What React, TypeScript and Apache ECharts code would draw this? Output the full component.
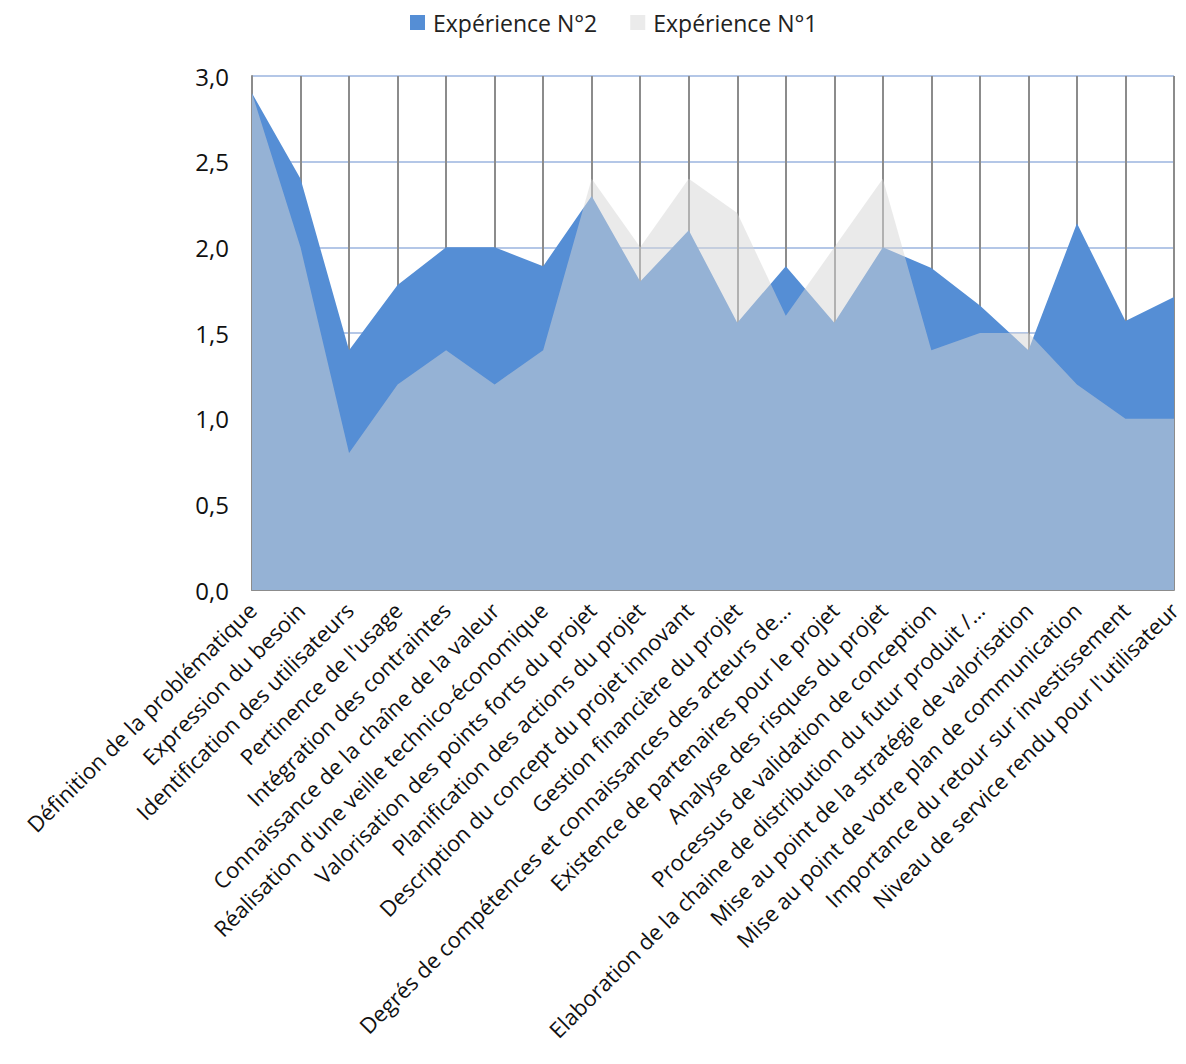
import React, { useEffect, useRef } from "react";
import * as echarts from "echarts";

const categories = [
  "Définition de la problématique",
  "Expression du besoin",
  "Identification des utilisateurs",
  "Pertinence de l'usage",
  "Intégration des contraintes",
  "Connaissance de la chaîne de la valeur",
  "Réalisation d'une veille technico-économique",
  "Valorisation des points forts du projet",
  "Planification des actions du projet",
  "Description du concept du projet innovant",
  "Gestion financière du projet",
  "Degrés de compétences et connaissances des acteurs de…",
  "Existence de partenaires pour le projet",
  "Analyse des risques du projet",
  "Processus de validation de conception",
  "Elaboration de la chaine de distribution du futur produit /…",
  "Mise au point de la stratégie de valorisation",
  "Mise au point de votre plan de communication",
  "Importance du retour sur investissement",
  "Niveau de service rendu pour l'utilisateur",
];

const experience2 = [2.9, 2.4, 1.4, 1.78, 2.0, 2.0, 1.89, 2.3, 1.8, 2.1, 1.56, 1.89, 1.56, 2.0, 1.88, 1.66, 1.4, 2.14, 1.57, 1.71];
const experience1 = [2.9, 2.0, 0.8, 1.2, 1.4, 1.2, 1.4, 2.4, 2.0, 2.4, 2.2, 1.6, 2.0, 2.4, 1.4, 1.5, 1.5, 1.2, 1.0, 1.0];

const FONT = "'Open Sans', 'Noto Sans', sans-serif";

export default function App() {
  const ref = useRef<HTMLDivElement>(null);
  useEffect(() => {
    if (!ref.current) return;
    const chart = echarts.init(ref.current, undefined, { renderer: "svg" });
    chart.setOption({
      animation: false,
      textStyle: { fontFamily: FONT },
      legend: {
        top: 3,
        left: 402,
        padding: 0,
        itemGap: 33,
        itemWidth: 15,
        itemHeight: 15,
        icon: "rect",
        textStyle: { fontSize: 23, color: "#222", fontFamily: FONT, padding: [0, 0, 0, 3] },
        data: ["Expérience N°2", "Expérience N°1"],
      },
      grid: { left: 244, right: 4, top: 68, bottom: 466, containLabel: false, outerBoundsMode: "none" },
      xAxis: {
        type: "category",
        data: categories,
        boundaryGap: false,
        axisLine: { show: true, lineStyle: { color: "#8c8c8c", width: 2 } },
        axisTick: { show: false },
        splitLine: { show: true, interval: 0, lineStyle: { color: "#8c8c8c", width: 2 } },
        axisLabel: {
          interval: 0,
          rotate: 45,
          fontSize: 22,
          color: "#111",
          fontFamily: FONT,
          margin: 16,
        },
      },
      yAxis: {
        type: "value",
        min: 0,
        max: 3,
        interval: 0.5,
        axisLine: { show: true, lineStyle: { color: "#8c8c8c", width: 2 } },
        axisTick: { show: false },
        splitLine: { show: true, lineStyle: { color: "#b4c7e7", width: 2 } },
        axisLabel: {
          fontSize: 24,
          color: "#111",
          fontFamily: FONT,
          margin: 23,
          formatter: (v: number) => v.toFixed(1).replace(".", ","),
        },
      },
      series: [
        {
          name: "Expérience N°2",
          type: "line",
          data: experience2,
          showSymbol: false,
          symbol: "none",
          color: "#558ed5",
          lineStyle: { width: 0 },
          areaStyle: { color: "#558ed5", opacity: 1 },
          z: 2,
        },
        {
          name: "Expérience N°1",
          type: "line",
          data: experience1,
          showSymbol: false,
          symbol: "none",
          color: "#ebebeb",
          lineStyle: { width: 0 },
          areaStyle: { color: "#d6d6d6", opacity: 0.5 },
          z: 3,
        },
      ],
    });
    return () => chart.dispose();
  }, []);
  return <div ref={ref} style={{ width: 1170, height: 1048 }} />;
}
